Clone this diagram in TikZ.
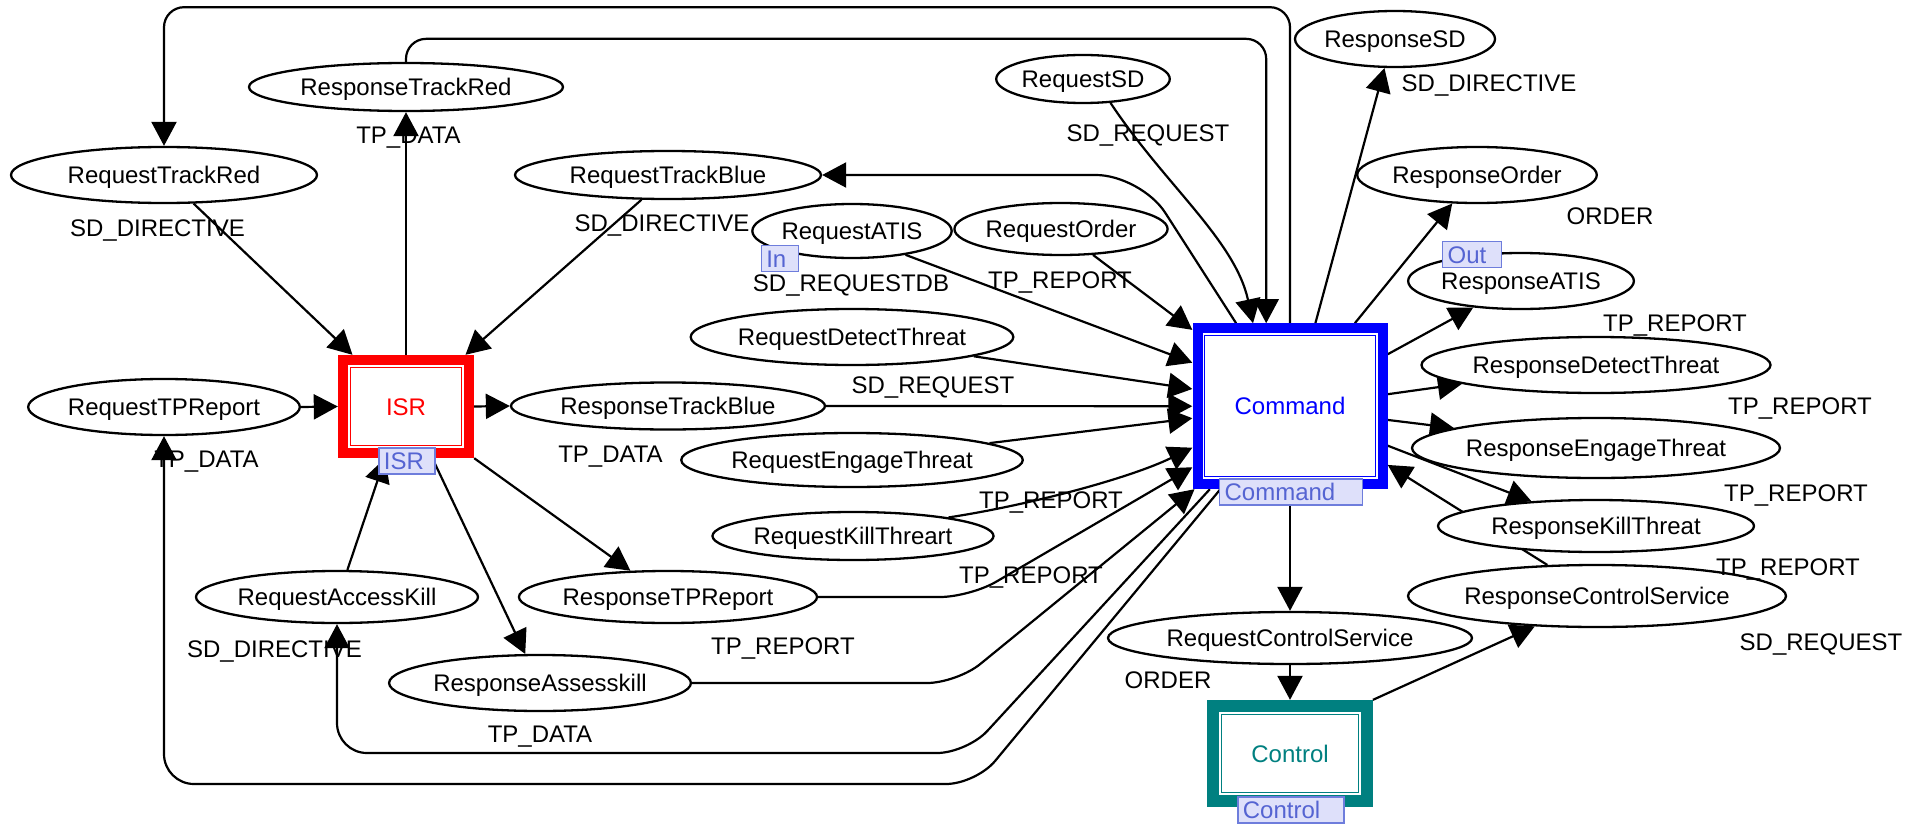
\documentclass[tikz,border=0pt]{standalone}
\usepackage{fontspec}
\setmainfont{Liberation Sans}
\usetikzlibrary{arrows.meta,shapes.geometric,calc}
\pgfdeclarelayer{wires}
\pgfsetlayers{wires,main}

\definecolor{tagfill}{RGB}{222,224,250}
\definecolor{tagline}{RGB}{110,125,220}
\definecolor{tagtext}{RGB}{85,100,210}
\definecolor{isrred}{RGB}{255,0,0}
\definecolor{cmdblue}{RGB}{0,0,255}
\definecolor{ctlteal}{RGB}{0,128,128}

\tikzset{
  port/.style={ellipse, draw, line width=2.3pt, fill=white, inner sep=0pt,
    text height=17.2pt, text depth=0pt},
  wire/.style={line width=2.2pt, -{Triangle[length=24pt,width=25pt]}},
  lbl/.style={inner sep=0pt, text height=17.2pt, text depth=0pt},
  sysbox/.style n args={2}{rectangle, fill=#1, text=#1, inner sep=0pt,
    text height=17.2pt, text depth=0pt,
    path picture={
      \fill[white] ([shift={(#2,#2)}]path picture bounding box.south west)
        rectangle ([shift={(-#2,-#2)}]path picture bounding box.north east);
      \draw[#1, line width=1.3pt]
        ([shift={(#2+2.3pt,#2+2.3pt)}]path picture bounding box.south west)
        rectangle ([shift={(-#2-2.3pt,-#2-2.3pt)}]path picture bounding box.north east);
    }},
  tag/.style={draw=tagline, fill=tagfill, text=tagtext, line width=1.2pt,
    inner xsep=5pt, inner ysep=0pt, minimum height=26pt, anchor=west,
    align=left, text height=17.2pt, text depth=0pt},
}

\begin{document}
\begin{tikzpicture}[x=1pt, y=-1pt, font=\fontsize{24pt}{28pt}\selectfont]
\useasboundingbox (0,0) rectangle (1913,824);

% ---- system blocks ----
\node[sysbox={isrred}{10pt}, minimum width=136pt, minimum height=103pt] (ISR) at (406,406.5) {ISR};
\node[sysbox={cmdblue}{10pt}, minimum width=195pt, minimum height=165.6pt] (Cmd) at (1290,406.2) {Command};
\node[sysbox={ctlteal}{12pt}, minimum width=165.4pt, minimum height=106.7pt] (Ctl) at (1290,753.4) {Control};

% ---- message ports ----
\node[port, minimum width=306pt, minimum height=56pt] (RTR) at (164,175) {RequestTrackRed};
\node[port, minimum width=314pt, minimum height=48pt] (RSTR) at (406,87) {ResponseTrackRed};
\node[port, minimum width=306pt, minimum height=48pt] (RTB) at (668,175) {RequestTrackBlue};
\node[port, minimum width=252pt, minimum height=56pt] (RTP) at (164,407) {RequestTPReport};
\node[port, minimum width=314pt, minimum height=47pt] (RSTB) at (668,406) {ResponseTrackBlue};
\node[port, minimum width=282pt, minimum height=52pt] (RAK) at (337,597) {RequestAccessKill};
\node[port, minimum width=298pt, minimum height=56pt] (RSAK) at (540,683) {ResponseAssesskill};
\node[port, minimum width=280pt, minimum height=52pt] (RSTP) at (668,597) {ResponseTPReport};
\node[port, minimum width=168pt, minimum height=48pt] (RSD) at (1083,79) {RequestSD};
\node[port, minimum width=188pt, minimum height=54pt] (RATIS) at (852,231) {RequestATIS};
\node[port, minimum width=210pt, minimum height=52pt] (ROrder) at (1061,229) {RequestOrder};
\node[port, minimum width=322pt, minimum height=56pt] (RDT) at (852,337) {RequestDetectThreat};
\node[port, minimum width=336pt, minimum height=54pt] (RET) at (852,460) {RequestEngageThreat};
\node[port, minimum width=278pt, minimum height=48pt] (RKT) at (853,536) {RequestKillThreart};
\node[port, minimum width=364pt, minimum height=52pt] (RCS) at (1290,638) {RequestControlService};
\node[port, minimum width=184pt, minimum height=56pt] (SSD) at (1395,39) {ResponseSD};
\node[port, minimum width=230pt, minimum height=56pt] (SOrder) at (1477,175) {ResponseOrder};
\node[port, minimum width=210pt, minimum height=56pt] (SATIS) at (1521,281) {ResponseATIS};
\node[port, minimum width=348pt, minimum height=56pt] (SDT) at (1596,365) {ResponseDetectThreat};
\node[port, minimum width=340pt, minimum height=60pt] (SET) at (1596,448) {ResponseEngageThreat};
\node[port, minimum width=316pt, minimum height=52pt] (SKT) at (1596,526) {ResponseKillThreat};
\node[port, minimum width=378pt, minimum height=62pt] (SCS) at (1597,596) {ResponseControlService};

% ---- connectors (behind the nodes) ----
\begin{pgfonlayer}{wires}
\draw[wire] (RTR.-44) -- (ISR.136);
\draw[wire] (RTB.-137) -- (ISR.41.6);
\draw[wire] (ISR.north) -- (RSTR.south);
\draw[wire, rounded corners=20pt] (RSTR.north) -- ++(0,-23) -| (Cmd.106.2);
\draw[wire, rounded corners=20pt] (Cmd.north) -- ++(0,-316) -| (RTR.north);
\draw[wire] (RTP.east) -- (ISR.west);
\draw[wire] (ISR.east) -- (RSTB.west);
\draw[wire] (RAK.69.7) -- (ISR.-112.2);
\draw[wire] (ISR.-63.2) -- (RSAK.117.3);
\draw[wire] (ISR.south east) -- (RSTP.145.3);
\draw[wire, rounded corners=30pt] (Cmd.-130.4) -- (976,784) -| (RTP.south);
\draw[wire, rounded corners=30pt] (Cmd.-134.7) -- (967,753) -| (RAK.south);
\draw[wire, rounded corners=30pt] (RSAK.east) -- (957,683) -- (Cmd.-139);
\draw[wire, rounded corners=30pt] (RSTP.east) -- (970,597) -- (Cmd.-148);
\draw[wire] (RKT.11.4) .. controls (1030,505) and (1130,478) .. (Cmd.-157.4);
\draw[wire] (RET.7.2) -- (Cmd.-173.7);
\draw[wire] (RSTB.east) -- (Cmd.west);
\draw[wire] (RDT.-9.2) -- (Cmd.170.6);
\draw[wire] (RATIS.-24.6) -- (Cmd.156.1);
\draw[wire] (ROrder.-39.3) -- (Cmd.142.4);
\draw[wire] (RSD.-41.6) .. controls (1165,185) and (1235,240) .. (Cmd.114.1);
\draw[wire, rounded corners=45pt] (Cmd.123.6) -- (1141,175) -- (RTB.east);
\draw[wire] (Cmd.73.8) -- (SSD.-110.8);
\draw[wire] (Cmd.52.7) -- (SOrder.-131.8);
\draw[wire] (Cmd.28.6) -- (SATIS.-151.1);
\draw[wire] (Cmd.7.7) -- (SDT.-172.9);
\draw[wire] (Cmd.-8) -- (SET.172.5);
\draw[wire] (Cmd.-22.2) -- (SKT.159.4);
\draw[wire] (SCS.148.9) -- (Cmd.-31.1);
\draw[wire] (Ctl.north east) -- (SCS.-154.1);
\draw[wire] (Cmd.south) -- (RCS.north);
\draw[wire] (RCS.south) -- (Ctl.north);
\end{pgfonlayer}

% ---- connector labels ----
\node[lbl] (l1) at (408.5,135) {TP\_DATA};
\node[lbl] (l2) at (157.5,228) {SD\_DIRECTIVE};
\node[lbl] (l3) at (662,223) {SD\_DIRECTIVE};
\node[lbl] (l4) at (206.5,459) {TP\_DATA};
\node[lbl] (l5) at (610.5,454) {TP\_DATA};
\node[lbl] (l6) at (274.5,649) {SD\_DIRECTIVE};
\node[lbl] (l7) at (540,734) {TP\_DATA};
\node[lbl] (l8) at (783,646) {TP\_REPORT};
\node[lbl] (l9) at (1031,575) {TP\_REPORT};
\node[lbl] (l10) at (1051,500) {TP\_REPORT};
\node[lbl] (l11) at (933,385) {SD\_REQUEST};
\node[lbl] (l12) at (851,283) {SD\_REQUESTDB};
\node[lbl] (l13) at (1060,280) {TP\_REPORT};
\node[lbl] (l14) at (1148,133) {SD\_REQUEST};
\node[lbl] (l15) at (1489,83) {SD\_DIRECTIVE};
\node[lbl] (l16) at (1610,216) {ORDER};
\node[lbl] (l17) at (1675,323) {TP\_REPORT};
\node[lbl] (l18) at (1800,406) {TP\_REPORT};
\node[lbl] (l19) at (1796,493) {TP\_REPORT};
\node[lbl] (l20) at (1788,567) {TP\_REPORT};
\node[lbl] (l21) at (1821,642) {SD\_REQUEST};
\node[lbl] (l22) at (1168,680) {ORDER};

% ---- name tags ----
\node[tag, text width=46pt] (isrtag) at (378.3,461) {ISR};
\node[tag, text width=133pt] (cmdtag) at (1219,492) {Command};
\node[tag, text width=96pt] (ctltag) at (1237.3,810) {Control};
\node[tag, text width=27pt] (intag) at (760.7,258.5) {In};
\node[tag, text width=49pt] (outtag) at (1442,254.5) {Out};
\end{tikzpicture}
\end{document}
